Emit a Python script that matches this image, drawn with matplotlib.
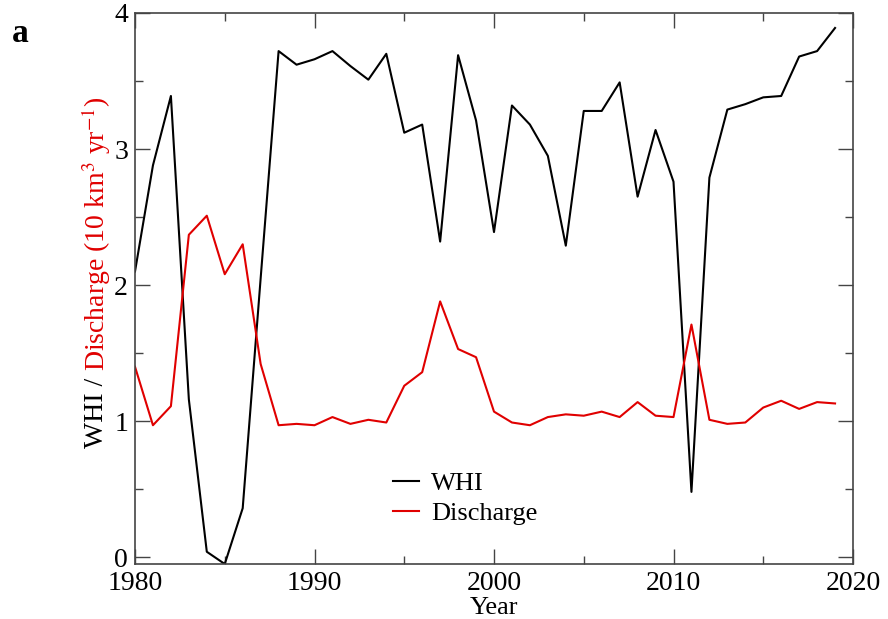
import numpy as np
import matplotlib
matplotlib.use("Agg")
import matplotlib.pyplot as plt
from matplotlib.ticker import MultipleLocator

plt.rcParams['font.family'] = ['Liberation Serif', 'DejaVu Serif']
plt.rcParams['mathtext.fontset'] = 'stix'

# data
years = list(range(1980, 2020))
whi = [2.10, 2.88, 3.39, 1.16, 0.04, -0.05, 0.36, 2.05, 3.72, 3.62,
       3.66, 3.72, 3.61, 3.51, 3.70, 3.12, 3.18, 2.32, 3.69, 3.21,
       2.39, 3.32, 3.18, 2.95, 2.29, 3.28, 3.28, 3.49, 2.65, 3.14,
       2.76, 0.48, 2.79, 3.29, 3.33, 3.38, 3.39, 3.68, 3.72, 3.89]
discharge = [1.40, 0.97, 1.11, 2.37, 2.51, 2.08, 2.30, 1.42, 0.97, 0.98,
             0.97, 1.03, 0.98, 1.01, 0.99, 1.26, 1.36, 1.88, 1.53, 1.47,
             1.07, 0.99, 0.97, 1.03, 1.05, 1.04, 1.07, 1.03, 1.14, 1.04,
             1.03, 1.71, 1.01, 0.98, 0.99, 1.10, 1.15, 1.09, 1.14, 1.13]

fig = plt.figure(figsize=(8.88, 6.19), dpi=100)
ax = fig.add_axes([135/888, 1 - 564/619, (853-135)/888, (564-13)/619])

ax.plot(years, whi, color='black', lw=1.5, label='WHI')
ax.plot(years, discharge, color='#e00000', lw=1.5, label='Discharge')

ax.set_xlim(1980, 2020)
ax.set_ylim(-0.05, 4.0)
ax.xaxis.set_major_locator(MultipleLocator(10))
ax.xaxis.set_minor_locator(MultipleLocator(5))
ax.yaxis.set_major_locator(MultipleLocator(1))
ax.yaxis.set_minor_locator(MultipleLocator(0.5))
ax.tick_params(which='both', direction='in', top=True, right=True,
               labelsize=20, color='#444444', width=1)
ax.tick_params(which='major', length=11)
ax.tick_params(which='minor', length=6)
ax.tick_params(axis='x', pad=5)
ax.tick_params(axis='y', pad=5)
for s in ax.spines.values():
    s.set_color('#444444')
    s.set_linewidth(1.2)

ax.set_xlabel('Year', fontsize=19, labelpad=0.5)

leg = ax.legend(loc='upper left', bbox_to_anchor=(0.359, 0.168), frameon=False,
                fontsize=19, handlelength=1.0, handletextpad=0.45,
                labelspacing=0.25, borderaxespad=0, borderpad=0)

# two-coloured y label
fig.canvas.draw()
r = fig.canvas.get_renderer()
t1 = fig.text(96/888, 1 - 448/619, 'WHI / ', rotation=90, fontsize=20,
              color='black', ha='center', va='bottom')
bb = t1.get_window_extent(renderer=r)
fig.text(96/888, bb.y1 / fig.bbox.height, r'Discharge (10 km$^{3}$ yr$^{-1}$)',
         rotation=90, fontsize=20, color='#e00000', ha='center', va='bottom')

fig.text(12/888, 1 - 42/619, 'a', fontsize=24, fontweight='bold')

fig.savefig('out.png', dpi=100)
